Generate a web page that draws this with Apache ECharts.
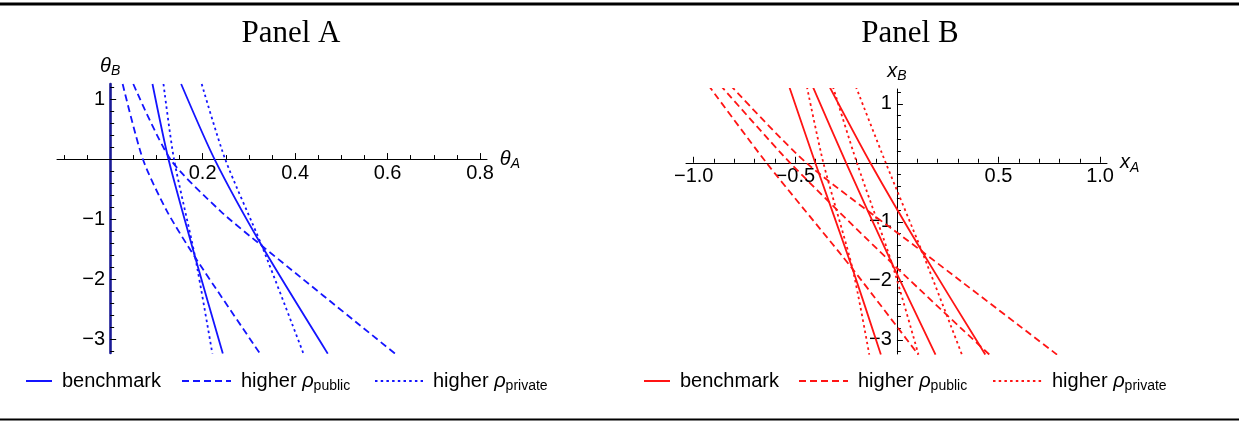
<!DOCTYPE html>
<html><head><meta charset="utf-8">
<script src="https://cdn.jsdelivr.net/npm/echarts@6/dist/echarts.min.js"></script>
<style>html,body{margin:0;padding:0;background:#fff}#c{width:1239px;height:421px}</style>
</head><body><div id="c"></div>
<script>
// ---------------- DATA ----------------
const panelTitles = ['Panel A', 'Panel B'];
const legendNames = ['benchmark', 'higher public', 'higher private'];

// Panel A axes
const A_xRange = [-0.115, 0.815];
const A_yRange = [-3.23, 1.25];
const A_xLabels = [0.2, 0.4, 0.6, 0.8];
const A_xMinor = [-0.1, -0.05, 0.05, 0.1, 0.15, 0.25, 0.3, 0.35, 0.45, 0.5, 0.55, 0.65, 0.7, 0.75];
const A_yLabels = [1, -1, -2, -3];
const A_yMinor = [1.2, 0.8, 0.6, 0.4, 0.2, -0.2, -0.4, -0.6, -0.8, -1.2, -1.4, -1.6, -1.8, -2.2, -2.4, -2.6, -2.8, -3.2];

// Panel B axes
const B_xRange = [-1.038, 1.034];
const B_yRange = [-3.24, 1.25];
const B_xLabels = [-1, -0.5, 0.5, 1];
const B_xMinor = [-0.9, -0.8, -0.7, -0.6, -0.4, -0.3, -0.2, -0.1, 0.1, 0.2, 0.3, 0.4, 0.6, 0.7, 0.8, 0.9];
const B_yLabels = [1, -1, -2, -3];
const B_yMinor = [1.2, 0.8, 0.6, 0.4, 0.2, -0.2, -0.4, -0.6, -0.8, -1.2, -1.4, -1.6, -1.8, -2.2, -2.4, -2.6, -2.8, -3.2];

// Panel A curves [thetaA, thetaB]
const A_benchmark = [
  [[0.0915, 1.25], [0.126, 0], [0.184, -1.64], [0.2436, -3.24]],
  [[0.1535, 1.25], [0.2256, 0], [0.328, -1.444], [0.4706, -3.24]]
];
const A_public = [
  [[0.027, 1.25], [0.0706, 0], [0.1225, -0.863], [0.184, -1.64], [0.324, -3.24]],
  [[0.050, 1.25], [0.13, 0], [0.238, -0.863], [0.328, -1.444], [0.616, -3.24]]
];
const A_private = [
  [[0.1153, 1.25], [0.138, 0], [0.184, -1.64], [0.221, -3.24]],
  [[0.198, 1.25], [0.2486, 0], [0.328, -1.444], [0.418, -3.24]]
];

// Panel B curves [xA, xB]
const B_benchmark = [
  [[-0.530, 1.29], [-0.402, 0], [-0.218, -1.80], [-0.079, -3.25]],
  [[-0.414, 1.29], [-0.250, 0], [-0.025, -1.70], [0.190, -3.25]],
  [[-0.332, 1.29], [-0.131, 0], [0.123, -1.50], [0.435, -3.25]]
];
const B_public = [
  [[-0.929, 1.32], [-0.642, 0], [-0.218, -1.80], [0.105, -3.25]],
  [[-0.870, 1.32], [-0.526, 0], [-0.025, -1.70], [0.455, -3.25]],
  [[-0.821, 1.32], [-0.446, 0], [0.123, -1.50], [0.788, -3.25]]
];
const B_private = [
  [[-0.443, 1.29], [-0.362, 0], [-0.218, -1.80], [-0.136, -3.25]],
  [[-0.315, 1.29], [-0.197, 0], [-0.025, -1.70], [0.106, -3.25]],
  [[-0.202, 1.29], [-0.055, 0], [0.123, -1.50], [0.320, -3.25]]
];

// ---------------- STYLE / LAYOUT ----------------
const SANS = 'Liberation Sans';
const SERIF = 'Liberation Serif';
const BLUE = '#1414ff';
const RED = '#ff1414';
const DASH = [7, 4];
const DOT = [2.5, 3.2];
const minus = s => String(s).replace('-', '\u2212');

const grids = [
  { left: 57, top: 84, width: 430, height: 269 },
  { left: 686, top: 89, width: 421, height: 265 }
];
// offsets that place each axis on the other axis' zero
function xOffset(g, yr) { return -(g.height * (0 - yr[0]) / (yr[1] - yr[0])); }
function yOffset(g, xr) { return -(g.width * (0 - xr[0]) / (xr[1] - xr[0])); }

const nameStyle = {
  i: { fontFamily: SANS, fontStyle: 'italic', fontSize: 20, color: '#000' },
  s: { fontFamily: SANS, fontStyle: 'italic', fontSize: 14, color: '#000', padding: [10, 0, 0, 0] }
};

function mkXAxes(gi, range, yr, labels, minor, nameRich, fmt, gap) {
  const off = xOffset(grids[gi], yr);
  return [
    { type: 'value', gridIndex: gi, min: range[0], max: range[1], position: 'bottom', offset: off,
      axisLine: { onZero: false, lineStyle: { color: '#000', width: 1 } },
      axisTick: { inside: true, length: 6, customValues: labels, lineStyle: { color: '#000' } },
      axisLabel: { customValues: labels, formatter: fmt, margin: 4, color: '#000', fontFamily: SANS, fontSize: 20 },
      splitLine: { show: false },
      name: nameRich, nameLocation: 'end', nameGap: gap,
      nameTextStyle: { rich: nameStyle } },
    { type: 'value', gridIndex: gi, min: range[0], max: range[1], position: 'bottom', offset: off,
      axisLine: { show: false, onZero: false },
      axisTick: { inside: true, length: 4, customValues: minor, lineStyle: { color: '#000' } },
      axisLabel: { show: false }, splitLine: { show: false } }
  ];
}
function mkYAxes(gi, range, xr, labels, minor, nameRich, lineColor, lineWidth) {
  const off = yOffset(grids[gi], xr);
  return [
    { type: 'value', gridIndex: gi, min: range[0], max: range[1], position: 'left', offset: off,
      axisLine: { onZero: false, lineStyle: { color: lineColor, width: lineWidth } },
      axisTick: { inside: true, length: 6, customValues: labels, lineStyle: { color: '#000' } },
      axisLabel: { customValues: labels, formatter: v => minus(v), margin: 5, color: '#000', fontFamily: SANS, fontSize: 20 },
      splitLine: { show: false },
      name: nameRich, nameLocation: 'end', nameGap: 6,
      nameTextStyle: { rich: nameStyle } },
    { type: 'value', gridIndex: gi, min: range[0], max: range[1], position: 'left', offset: off,
      axisLine: { show: false, onZero: false },
      axisTick: { inside: true, length: 4, customValues: minor, lineStyle: { color: '#000' } },
      axisLabel: { show: false }, splitLine: { show: false } }
  ];
}

const series = [];
function addLines(list, name, color, type, xi, yi) {
  list.forEach(pts => series.push({
    type: 'line', name: name, data: pts, xAxisIndex: xi, yAxisIndex: yi,
    symbol: 'none', showSymbol: false, clip: true, silent: true,
    smooth: 0.25,
    lineStyle: { color: color, width: 1.8, type: type }, itemStyle: { color: color }
  }));
}
addLines(A_benchmark, 'A|' + legendNames[0], BLUE, 'solid', 0, 0);
addLines(A_public, 'A|' + legendNames[1], BLUE, DASH, 0, 0);
addLines(A_private, 'A|' + legendNames[2], BLUE, DOT, 0, 0);
addLines(B_benchmark, 'B|' + legendNames[0], RED, 'solid', 2, 2);
addLines(B_public, 'B|' + legendNames[1], RED, DASH, 2, 2);
addLines(B_private, 'B|' + legendNames[2], RED, DOT, 2, 2);

const legRich = {
  g: { width: 5 },
  t: { fontFamily: SANS, fontSize: 20, color: '#000' },
  i: { fontFamily: SANS, fontStyle: 'italic', fontSize: 20, color: '#000' },
  s: { fontFamily: SANS, fontSize: 14, color: '#000', padding: [10, 0, 0, 0] }
};
function legFmt(n) {
  const base = n.split('|')[1];
  if (base === 'benchmark') return '{g|}{t|benchmark}';
  const sub = base.split(' ')[1];
  return '{g|}{t|higher }{i|\u03c1}{s|' + sub + '}';
}
const legendPos = [
  ['A|benchmark', 25, 26], ['A|higher public', 181, 49], ['A|higher private', 374, 48],
  ['B|benchmark', 643, 26], ['B|higher public', 798, 49], ['B|higher private', 992, 49]
];
const legends = legendPos.map(p => ({
  data: [p[0]], left: p[1], top: 371, itemWidth: p[2], itemHeight: 20, orient: 'horizontal',
  selectedMode: false, formatter: legFmt, textStyle: { rich: legRich, fontSize: 20 }, padding: 0,
  itemStyle: { opacity: 0, color: 'rgba(0,0,0,0)', borderWidth: 0 }
}));

const option = {
  animation: false,
  backgroundColor: '#fff',
  title: [
    { text: panelTitles[0], left: 286, top: 13, textAlign: 'center',
      textStyle: { fontFamily: SERIF, fontWeight: 'normal', fontSize: 31, color: '#000' } },
    { text: panelTitles[1], left: 905, top: 13, textAlign: 'center',
      textStyle: { fontFamily: SERIF, fontWeight: 'normal', fontSize: 31, color: '#000' } }
  ],
  grid: grids.map(g => Object.assign({ containLabel: false }, g)),
  xAxis: [
    ...mkXAxes(0, A_xRange, A_yRange, A_xLabels, A_xMinor, '{i|\u03b8}{s|A}', v => v.toFixed(1), 10),
    ...mkXAxes(1, B_xRange, B_yRange, B_xLabels, B_xMinor, '{i|x}{s|A}', v => minus(v.toFixed(1)), 5)
  ],
  yAxis: [
    ...mkYAxes(0, A_yRange, A_xRange, A_yLabels, A_yMinor, '{i|\u03b8}{s|B}', '#1a1a96', 2.6),
    ...mkYAxes(1, B_yRange, B_xRange, B_yLabels, B_yMinor, '{i|x}{s|B}', '#000', 1)
  ],
  legend: legends,
  graphic: [
    { type: 'line', shape: { x1: 0, y1: 4, x2: 1239, y2: 4 }, style: { stroke: '#000', lineWidth: 3 } },
    { type: 'line', shape: { x1: 0, y1: 419.5, x2: 1239, y2: 419.5 }, style: { stroke: '#000', lineWidth: 2 } }
  ],
  series: series
};
const chart = echarts.init(document.getElementById('c'), null, { renderer: 'canvas' });
chart.setOption(option);
</script></body></html>
